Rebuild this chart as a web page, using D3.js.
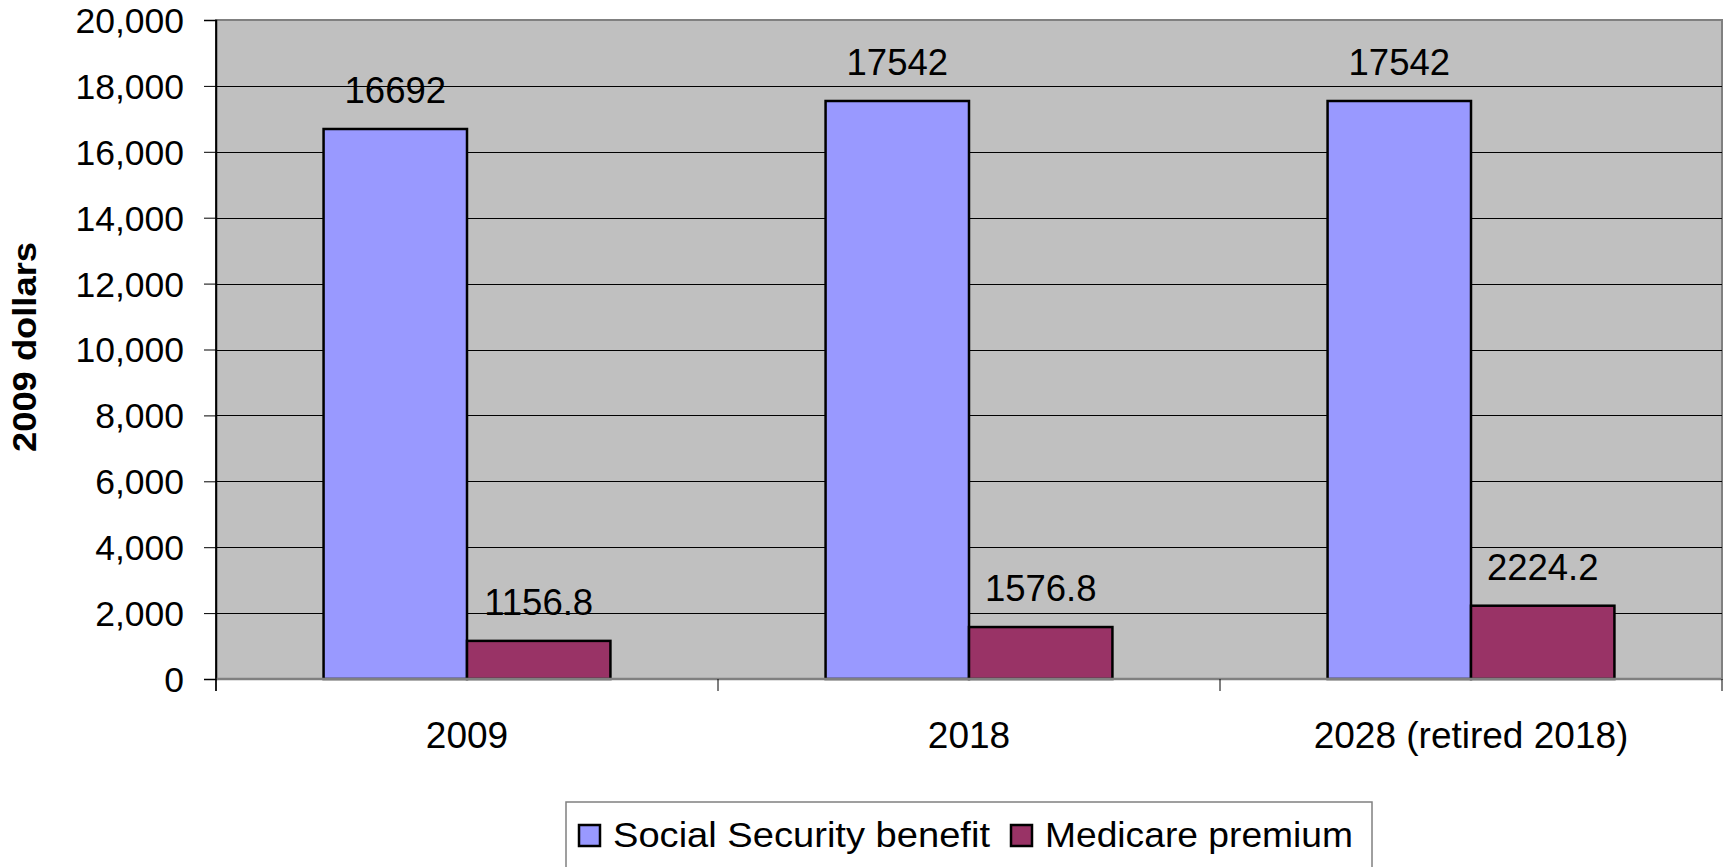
<!DOCTYPE html>
<html>
<head>
<meta charset="utf-8">
<script src="https://cdn.jsdelivr.net/npm/d3@7"></script>
<style>
  html, body { margin: 0; padding: 0; background: #fff; }
  svg { display: block; font-family: "Liberation Sans", Arial, sans-serif; }
</style>
</head>
<body>
<svg id="chart" width="1729" height="867"></svg>
<script>
const categories = ["2009", "2018", "2028 (retired 2018)"];
const seriesNames = ["Social Security benefit", "Medicare premium"];
const socialSecurity = [16692, 17542, 17542];
const medicare = [1156.8, 1576.8, 2224.2];
const yTicks = [0, 2000, 4000, 6000, 8000, 10000, 12000, 14000, 16000, 18000, 20000];
const seriesColors = ["#9999FF", "#993366"];
const yTitle = "2009 dollars";

const seriesValues = [socialSecurity, medicare];
const data = categories.map((c, i) => ({
  cat: c,
  vals: seriesNames.map((s, j) => ({ series: s, value: seriesValues[j][i], label: String(seriesValues[j][i]) }))
}));

const svg = d3.select("#chart");
const L = 216, R = 1722, T = 20, B = 679;

const y = d3.scaleLinear().domain([0, 20000]).range([B, T]);
const x0 = d3.scaleBand().domain(categories).range([L, R]).paddingInner(0).paddingOuter(0);
const x1 = d3.scaleBand().domain(seriesNames).range([0, x0.bandwidth()]).paddingInner(0).paddingOuter(0.75);
const color = d3.scaleOrdinal().domain(seriesNames).range(seriesColors);

// plot background
svg.append("rect").attr("x", L).attr("y", T).attr("width", R - L).attr("height", B - T)
  .attr("fill", "#C0C0C0").attr("stroke", "#808080").attr("stroke-width", 2);

// gridlines
svg.append("g").selectAll("line").data(yTicks.filter(d => d > 0 && d < 20000)).join("line")
  .attr("x1", L).attr("x2", R)
  .attr("y1", d => Math.round(y(d)) + 0.5).attr("y2", d => Math.round(y(d)) + 0.5)
  .attr("stroke", "#000").attr("stroke-width", 1);

// y axis
const yAxis = d3.axisLeft(y).tickValues(yTicks).tickSize(12).tickPadding(20).tickFormat(d3.format(","));
const gy = svg.append("g").attr("transform", `translate(${L},0)`).call(yAxis);
gy.select(".domain").attr("stroke", "#000").attr("stroke-width", 1.5);
gy.selectAll(".tick line").attr("stroke", "#000");
gy.selectAll(".tick text").attr("font-size", 35.5).attr("fill", "#000")
  .attr("font-family", "Liberation Sans, Arial, sans-serif").attr("dy", "0.35em");

// bars
const groups = svg.append("g").selectAll("g").data(data).join("g")
  .attr("transform", d => `translate(${x0(d.cat)},0)`);
groups.selectAll("rect").data(d => d.vals).join("rect")
  .attr("x", d => x1(d.series))
  .attr("width", x1.bandwidth())
  .attr("y", d => y(d.value))
  .attr("height", d => B - y(d.value))
  .attr("fill", d => color(d.series))
  .attr("stroke", "#000").attr("stroke-width", 2.5);
groups.selectAll("text").data(d => d.vals).join("text")
  .attr("x", d => x1(d.series) + x1.bandwidth() / 2)
  .attr("y", d => y(d.value) - 26)
  .attr("text-anchor", "middle")
  .attr("font-size", 36.5).attr("fill", "#000")
  .text(d => d.label);

// x axis baseline
svg.append("line").attr("x1", L).attr("x2", R).attr("y1", B).attr("y2", B)
  .attr("stroke", "#808080").attr("stroke-width", 2.5);
// left axis line on top
svg.append("line").attr("x1", L).attr("x2", L).attr("y1", T).attr("y2", B + 12)
  .attr("stroke", "#000").attr("stroke-width", 1.5);

// x category boundary ticks
const bounds = categories.map(c => x0(c)).concat([x0(categories[categories.length - 1]) + x0.bandwidth()]);
svg.append("g").selectAll("line").data(bounds).join("line")
  .attr("x1", d => d).attr("x2", d => d).attr("y1", B).attr("y2", B + 12)
  .attr("stroke", "#000").attr("stroke-width", 1);

// x labels via axis
const xAxis = d3.axisBottom(x0).tickSize(0).tickPadding(0);
const gx = svg.append("g").attr("transform", `translate(0,${B})`).call(xAxis);
gx.select(".domain").remove();
gx.selectAll(".tick text").attr("font-size", 37).attr("fill", "#000")
  .attr("font-family", "Liberation Sans, Arial, sans-serif")
  .attr("dy", null).attr("y", 69);

// y title
svg.append("text")
  .attr("transform", "translate(36,347) rotate(-90)")
  .attr("text-anchor", "middle")
  .attr("font-size", 34).attr("font-weight", "bold").attr("fill", "#000")
  .attr("textLength", 210).attr("lengthAdjust", "spacingAndGlyphs")
  .text(yTitle);

// legend
const leg = svg.append("g");
leg.append("rect").attr("x", 566).attr("y", 802).attr("width", 806).attr("height", 100)
  .attr("fill", "#fff").attr("stroke", "#808080").attr("stroke-width", 1.5);
const legendTextLengths = [377, 308];
let lx = 579;
seriesNames.forEach((s, i) => {
  leg.append("rect").attr("x", lx).attr("y", 825).attr("width", 21).attr("height", 21)
    .attr("fill", color(s)).attr("stroke", "#000").attr("stroke-width", 2.5);
  leg.append("text").attr("x", lx + 34).attr("y", 847)
    .attr("font-size", 35).attr("fill", "#000")
    .attr("textLength", legendTextLengths[i]).attr("lengthAdjust", "spacingAndGlyphs")
    .text(s);
  lx = lx + 34 + legendTextLengths[i] + 21;
});
</script>
</body>
</html>
